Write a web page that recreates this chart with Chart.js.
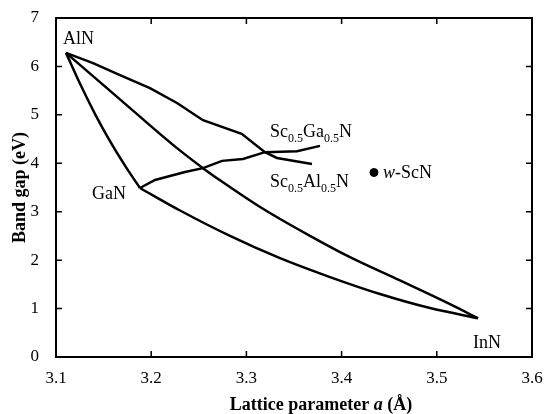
<!DOCTYPE html>
<html>
<head>
<meta charset="utf-8">
<script src="https://cdn.jsdelivr.net/npm/chart.js@4.4.0/dist/chart.umd.min.js"></script>
<style>
  html, body { margin: 0; padding: 0; background: #fff; }
</style>
</head>
<body>
<canvas id="gapChart" width="547" height="414"></canvas>
<script>
// tick values
const xTicks = [3.1, 3.2, 3.3, 3.4, 3.5, 3.6];
const yTicks = [0, 1, 2, 3, 4, 5, 6, 7];

// AlN -> GaN
const alnGanA  = [3.1105, 3.1263, 3.1420, 3.1578, 3.1735, 3.1882];
const alnGanEg = [6.28, 5.60, 4.98, 4.42, 3.92, 3.49];

// AlN -> InN
const alnInnA  = [3.1105, 3.1672, 3.2229, 3.2544, 3.2723, 3.3174, 3.3668, 3.4088, 3.4613, 3.5139, 3.5433];
const alnInnEg = [6.28, 5.32, 4.38, 3.90, 3.65, 3.06, 2.50, 2.06, 1.58, 1.09, 0.80];

// GaN -> InN
const ganInnA  = [3.1882, 3.2303, 3.2828, 3.3353, 3.3878, 3.4403, 3.4929, 3.5433];
const ganInnEg = [3.49, 3.025, 2.50, 2.04, 1.65, 1.30, 1.01, 0.80];

// AlN -> Sc0.5Al0.5N
const scAlA  = [3.1105, 3.1389, 3.1672, 3.1987, 3.2271, 3.2544, 3.2950, 3.3195, 3.3321, 3.3689];
const scAlEg = [6.28, 6.07, 5.82, 5.55, 5.245, 4.89, 4.61, 4.23, 4.11, 3.985];

// GaN -> Sc0.5Ga0.5N
const scGaA  = [3.1882, 3.2040, 3.2355, 3.2544, 3.2744, 3.2964, 3.3195, 3.3532, 3.3773];
const scGaEg = [3.49, 3.655, 3.82, 3.90, 4.05, 4.09, 4.23, 4.25, 4.36];

// wurtzite ScN
const scnA  = [3.434];
const scnEg = [3.81];

const serif = '"Liberation Serif", "Times New Roman", serif';

function pts(xs, ys) {
  return xs.map((x, i) => ({ x: x, y: ys[i] }));
}

function curve(xs, ys, smooth) {
  return {
    data: pts(xs, ys),
    borderColor: '#000',
    borderWidth: 2.5,
    pointRadius: 0,
    fill: false,
    tension: 0,
    cubicInterpolationMode: smooth ? 'monotone' : 'default'
  };
}

// draw a label made of pieces: [text, 'sub' | 'it' | '']
function drawParts(ctx, parts, x, y) {
  let cx = x;
  parts.forEach(p => {
    const sub = p[1] === 'sub';
    ctx.font = (p[1] === 'it' ? 'italic ' : '') + (sub ? '12px ' : '18px ') + serif;
    ctx.fillText(p[0], cx, sub ? y + 5 : y);
    cx += ctx.measureText(p[0]).width;
  });
}

const framePlugin = {
  id: 'frame',
  afterDraw(chart) {
    const ctx = chart.ctx;
    const a = chart.chartArea;
    const xs = chart.scales.x, ys = chart.scales.y;
    ctx.save();
    ctx.strokeStyle = '#000';
    ctx.lineWidth = 2;
    ctx.strokeRect(a.left, a.top, a.right - a.left, a.bottom - a.top);
    ctx.lineWidth = 1.5;
    ctx.beginPath();
    xTicks.forEach(v => {
      const px = xs.getPixelForValue(v);
      ctx.moveTo(px, a.bottom); ctx.lineTo(px, a.bottom - 6);
      ctx.moveTo(px, a.top); ctx.lineTo(px, a.top + 6);
    });
    yTicks.forEach(v => {
      const py = ys.getPixelForValue(v);
      ctx.moveTo(a.left, py); ctx.lineTo(a.left + 6, py);
      ctx.moveTo(a.right, py); ctx.lineTo(a.right - 6, py);
    });
    ctx.stroke();

    // point labels
    ctx.fillStyle = '#000';
    ctx.textBaseline = 'alphabetic';
    ctx.textAlign = 'left';
    const P = (x, y) => [xs.getPixelForValue(x), ys.getPixelForValue(y)];
    let p = P(alnGanA[0], alnGanEg[0]);
    drawParts(ctx, [['AlN', '']], p[0] - 3, p[1] - 9);
    p = P(alnGanA[5], alnGanEg[5]);
    drawParts(ctx, [['GaN', '']], p[0] - 48, p[1] + 11);
    p = P(ganInnA[7], ganInnEg[7]);
    drawParts(ctx, [['InN', '']], p[0] - 5, p[1] + 30);
    p = P(scGaA[8], scGaEg[8]);
    drawParts(ctx, [['Sc', ''], ['0.5', 'sub'], ['Ga', ''], ['0.5', 'sub'], ['N', '']], p[0] - 50, p[1] - 9);
    p = P(scAlA[9], scAlEg[9]);
    drawParts(ctx, [['Sc', ''], ['0.5', 'sub'], ['Al', ''], ['0.5', 'sub'], ['N', '']], p[0] - 42, p[1] + 23);
    p = P(scnA[0], scnEg[0]);
    drawParts(ctx, [['w', 'it'], ['-ScN', '']], p[0] + 9, p[1] + 6);

    // axis titles
    const t1 = 'Lattice parameter ', t3 = ' (Å)';
    ctx.font = 'bold 18px ' + serif;
    const w1 = ctx.measureText(t1).width, w3 = ctx.measureText(t3).width;
    ctx.font = 'italic bold 18px ' + serif;
    const w2 = ctx.measureText('a').width;
    const cx = 321;
    let tx = cx - (w1 + w2 + w3) / 2;
    const ty = 410;
    ctx.font = 'bold 18px ' + serif;
    ctx.fillText(t1, tx, ty); tx += w1;
    ctx.font = 'italic bold 18px ' + serif;
    ctx.fillText('a', tx, ty); tx += w2;
    ctx.font = 'bold 18px ' + serif;
    ctx.fillText(t3, tx, ty);

    ctx.translate(20, (a.top + a.bottom) / 2);
    ctx.rotate(-Math.PI / 2);
    ctx.textAlign = 'center';
    ctx.textBaseline = 'middle';
    ctx.fillText('Band gap (eV)', 0, 0);
    ctx.restore();
  }
};

const config = {
  type: 'line',
  data: {
    datasets: [
      curve(alnGanA, alnGanEg, true),
      curve(alnInnA, alnInnEg, true),
      curve(ganInnA, ganInnEg, true),
      curve(scAlA, scAlEg, false),
      curve(scGaA, scGaEg, false),
      {
        type: 'scatter',
        data: pts(scnA, scnEg),
        backgroundColor: '#000',
        borderColor: '#000',
        pointRadius: 4
      }
    ]
  },
  options: {
    responsive: false,
    animation: false,
    layout: { padding: { left: 0, right: 15, top: 18, bottom: 0 } },
    plugins: { legend: { display: false }, tooltip: { enabled: false } },
    scales: {
      x: {
        type: 'linear',
        min: 3.1,
        max: 3.6,
        afterBuildTicks: s => { s.ticks = xTicks.map(v => ({ value: v })); },
        afterFit: s => { s.height = 57; },
        ticks: {
          callback: v => v.toFixed(1),
          font: { family: serif, size: 17 },
          color: '#000',
          padding: 0,
          maxRotation: 0,
          autoSkip: false
        },
        // tick marks are hidden; tickLength only pushes the labels away
        grid: { display: false, drawTicks: true, tickLength: 11 },
        border: { display: false }
      },
      y: {
        min: 0,
        max: 7,
        afterBuildTicks: s => { s.ticks = yTicks.map(v => ({ value: v })); },
        afterFit: s => { s.width = 56; },
        ticks: {
          font: { family: serif, size: 17 },
          color: '#000',
          padding: 0
        },
        grid: { display: false, drawTicks: true, tickLength: 17 },
        border: { display: false }
      }
    }
  },
  plugins: [framePlugin]
};

const gapChart = new Chart(document.getElementById('gapChart'), config);
</script>
</body>
</html>
